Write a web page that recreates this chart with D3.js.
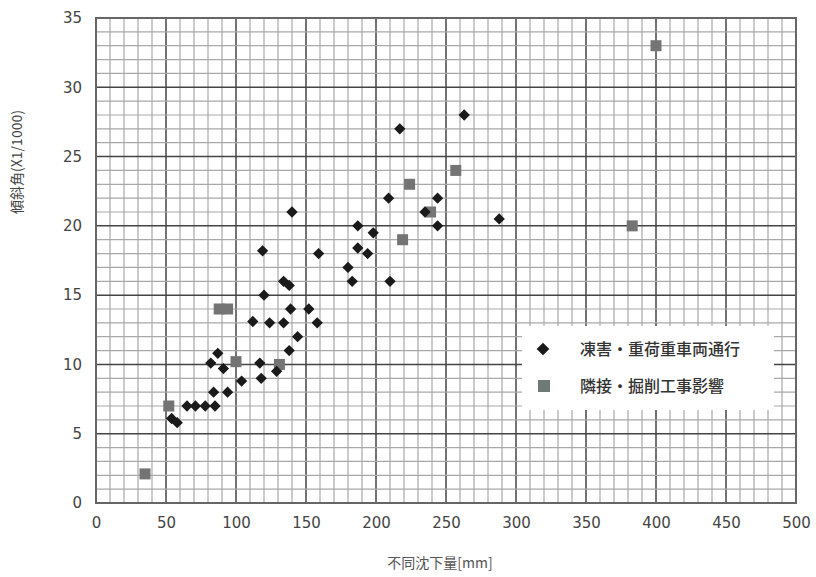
<!DOCTYPE html>
<html>
<head>
<meta charset="utf-8">
<script src="https://d3js.org/d3.v7.min.js"></script>
<style>
  html, body { margin: 0; padding: 0; background: #fff; }
  text { font-family: "Noto Sans CJK JP", "DejaVu Sans", sans-serif; }
</style>
<title>不同沈下量と傾斜角</title>
</head>
<body>
<svg id="chart" width="816" height="577"></svg>
<script>
const width = 816, height = 577;
const margin = { top: 18, right: 20, bottom: 74, left: 96 };

// series 1: black diamonds
const frostX = [263, 217, 209, 244, 235, 244, 288, 187, 198, 187, 194, 159, 180, 183, 210,
  140, 119, 134, 138, 120, 139, 152, 112, 124, 134, 158, 144, 138,
  87, 82, 91, 117, 129, 118, 104, 84, 94, 65, 71, 78, 85, 54, 58];
const frostY = [28, 27, 22, 22, 21, 20, 20.5, 20, 19.5, 18.4, 18, 18, 17, 16, 16,
  21, 18.2, 16, 15.7, 15, 14, 14, 13.1, 13, 13, 13, 12, 11,
  10.8, 10.1, 9.7, 10.1, 9.5, 9, 8.8, 8, 8, 7, 7, 7, 7, 6.1, 5.8];
// series 2: grey squares
const digX = [400, 257, 224, 239, 219, 383, 88, 94, 100, 131, 52, 35];
const digY = [33, 24, 23, 21, 19, 20, 14, 14, 10.2, 10, 7, 2.1];

const xTicks = [0, 50, 100, 150, 200, 250, 300, 350, 400, 450, 500];
const yTicks = [0, 5, 10, 15, 20, 25, 30, 35];
const legendLabels = ["凍害・重荷重車両通行", "隣接・掘削工事影響"];

const svg = d3.select("#chart");
const x = d3.scaleLinear().domain([0, 500]).range([margin.left, width - margin.right]);
const y = d3.scaleLinear().domain([0, 35]).range([height - margin.bottom, margin.top]);

// graph paper grid
const grid = svg.append("g");
grid.selectAll("line.vminor").data(d3.range(0, 501, 10)).join("line")
  .attr("x1", d => x(d)).attr("x2", d => x(d))
  .attr("y1", y(0)).attr("y2", y(35))
  .attr("stroke", d => d % 50 === 0 ? "#444" : "#a8a8a8")
  .attr("stroke-width", d => d % 50 === 0 ? 1.5 : 1.2);
grid.selectAll("line.hminor").data(d3.range(0, 36, 1)).join("line")
  .attr("y1", d => y(d)).attr("y2", d => y(d))
  .attr("x1", x(0)).attr("x2", x(500))
  .attr("stroke", d => d % 5 === 0 ? "#444" : "#a8a8a8")
  .attr("stroke-width", d => d % 5 === 0 ? 1.5 : 1.2);

svg.append("rect")
  .attr("x", x(0)).attr("y", y(35))
  .attr("width", x(500) - x(0)).attr("height", y(0) - y(35))
  .attr("fill", "none").attr("stroke", "#666").attr("stroke-width", 2);

// axes, tick labels only
const xAxis = svg.append("g")
  .attr("transform", `translate(0,${y(0)})`)
  .call(d3.axisBottom(x).tickValues(xTicks).tickSize(0).tickPadding(14));
const yAxis = svg.append("g")
  .attr("transform", `translate(${x(0)},0)`)
  .call(d3.axisLeft(y).tickValues(yTicks).tickSize(0).tickPadding(14));
[xAxis, yAxis].forEach(a => {
  a.select(".domain").remove();
  a.selectAll("text").attr("font-size", 15).attr("fill", "#444")
    .style("font-family", "'DejaVu Sans', sans-serif");
});

// axis titles
svg.append("text")
  .attr("x", 440).attr("y", 568)
  .attr("text-anchor", "middle").attr("font-size", 14).attr("fill", "#555")
  .text("不同沈下量[mm]");
svg.append("text")
  .attr("transform", "translate(22,162) rotate(-90)")
  .attr("text-anchor", "middle").attr("font-size", 14).attr("fill", "#444")
  .text("傾斜角(X1/1000)");

// points
const pts = svg.append("g");
pts.selectAll("rect.dig").data(digX.map((d, i) => [d, digY[i]])).join("rect")
  .attr("x", d => x(d[0]) - 5.5).attr("y", d => y(d[1]) - 5.5)
  .attr("width", 11).attr("height", 11)
  .attr("fill", "#747474");
pts.selectAll("path.frost").data(frostX.map((d, i) => [d, frostY[i]])).join("path")
  .attr("transform", d => `translate(${x(d[0])},${y(d[1])}) rotate(45)`)
  .attr("d", d3.symbol(d3.symbolSquare, 64))
  .attr("fill", "#1a1a1a");

// legend
const lg = svg.append("g");
lg.append("rect").attr("x", 522).attr("y", 326).attr("width", 252).attr("height", 84)
  .attr("fill", "#fff");
lg.append("path").attr("transform", "translate(543,349) rotate(45)")
  .attr("d", d3.symbol(d3.symbolSquare, 81)).attr("fill", "#1a1a1a");
lg.append("rect").attr("x", 538).attr("y", 380).attr("width", 12).attr("height", 12)
  .attr("fill", "#6e7a74");
lg.selectAll("text").data(legendLabels).join("text")
  .attr("x", 580).attr("y", (d, i) => 355 + i * 37)
  .attr("font-size", 16).attr("font-weight", 500).attr("fill", "#333")
  .text(d => d);
</script>
</body>
</html>
